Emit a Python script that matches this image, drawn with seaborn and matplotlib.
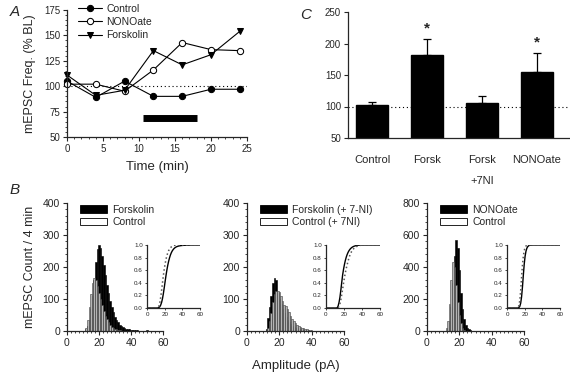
import numpy as np
import pandas as pd
import matplotlib
matplotlib.use('Agg')
import matplotlib.pyplot as plt
import seaborn as sns
from matplotlib.patches import Patch
from matplotlib.ticker import MultipleLocator

sns.set_style('ticks')
plt.rcParams['font.family'] = ['Liberation Sans', 'DejaVu Sans']

# ---- Panel A data: mEPSC frequency (% baseline) over time
time_min = [0, 4, 8, 12, 16, 20, 24]
freq_control = [105, 89, 105, 90, 90, 97, 97]
freq_nonoate = [102, 102, 95, 116, 143, 136, 135]
freq_forskolin = [111, 91, 96, 135, 121, 131, 154]
drug_start, drug_end, drug_level = 10.6, 18.0, 69

# ---- Panel C data: mean frequency with SEM
groups = ['Control', 'Forsk', 'Forsk\n+7NI', 'NONOate']
group_mean = [103, 181, 106, 155]
group_sem = [4, 26, 10, 30]
significant = [False, True, False, True]

# ---- Panel B data: amplitude histograms (1 pA bins)
h1_amp_treat = list(range(12, 51))
h1_cnt_treat = [5, 15, 35, 70, 110, 160, 215, 255, 268, 258, 235, 205, 175, 145, 120, 95,
                75, 58, 45, 35, 27, 20, 15, 12, 9, 7, 6, 5, 4, 3, 3, 2, 2, 1, 1, 1, 1, 1, 2]
h1_amp_ctrl = list(range(12, 35))
h1_cnt_ctrl = [10, 35, 75, 115, 150, 165, 160, 140, 120, 100, 80, 62, 48, 36, 27, 20,
               14, 10, 7, 5, 3, 2, 1]

h2_amp_treat = list(range(12, 40))
h2_cnt_treat = [5, 40, 75, 110, 150, 165, 158, 120, 100, 85, 70, 55, 45, 35, 28, 22,
                17, 13, 10, 8, 6, 5, 4, 3, 2, 2, 1, 1]
h2_amp_ctrl = list(range(13, 42))
h2_cnt_ctrl = [10, 30, 55, 90, 115, 125, 125, 122, 110, 95, 82, 78, 70, 60, 48, 38,
               30, 25, 20, 16, 12, 10, 8, 6, 5, 4, 3, 2, 1]

h3_amp_treat = list(range(13, 29))
h3_cnt_treat = [20, 60, 150, 300, 470, 570, 520, 380, 240, 140, 75, 40, 20, 10, 5, 2]
h3_amp_ctrl = list(range(12, 25))
h3_cnt_ctrl = [20, 60, 170, 320, 430, 400, 290, 180, 100, 50, 20, 8, 3]

hist_sets = [
    (h1_amp_treat, h1_cnt_treat, h1_amp_ctrl, h1_cnt_ctrl, 'Forskolin', 'Control', 400),
    (h2_amp_treat, h2_cnt_treat, h2_amp_ctrl, h2_cnt_ctrl, 'Forskolin (+ 7-NI)', 'Control (+ 7NI)', 400),
    (h3_amp_treat, h3_cnt_treat, h3_amp_ctrl, h3_cnt_ctrl, 'NONOate', 'Control', 800),
]

W, H = 570, 376
fig = plt.figure(figsize=(W / 100, H / 100), dpi=100)


def px_axes(x0, y0, x1, y1):
    return fig.add_axes([x0 / W, 1 - y1 / H, (x1 - x0) / W, (y1 - y0) / H])


def style_ticks(ax, size=7):
    ax.tick_params(which='major', length=3, width=0.8, labelsize=size, pad=2, direction='out')
    ax.tick_params(which='minor', length=1.5, width=0.6, direction='out')
    for s in ['left', 'bottom']:
        ax.spines[s].set_linewidth(0.9)
    sns.despine(ax=ax)


# ---------------- Panel A
axA = px_axes(67, 10, 247, 137)
sns.lineplot(x=time_min, y=freq_control, ax=axA, color='black', lw=0.8, marker='o',
             markersize=4.5, markerfacecolor='black', markeredgecolor='black', label='Control', clip_on=False)
sns.lineplot(x=time_min, y=freq_nonoate, ax=axA, color='black', lw=0.8, marker='o',
             markersize=4.5, markerfacecolor='white', markeredgecolor='black', label='NONOate', clip_on=False)
sns.lineplot(x=time_min, y=freq_forskolin, ax=axA, color='black', lw=0.8, marker='v',
             markersize=4.5, markerfacecolor='black', markeredgecolor='black', label='Forskolin', clip_on=False)
axA.axhline(100, color='black', lw=0.8, ls=(0, (1, 2.5)), zorder=0)
axA.plot([drug_start, drug_end], [drug_level, drug_level], color='black', lw=5, solid_capstyle='butt')
axA.set_xlim(0, 25)
axA.set_ylim(50, 175)
axA.set_xticks([0, 5, 10, 15, 20, 25])
axA.set_yticks([50, 75, 100, 125, 150, 175])
axA.xaxis.set_minor_locator(MultipleLocator(1))
axA.yaxis.set_minor_locator(MultipleLocator(5))
style_ticks(axA)
axA.set_xlabel('Time (min)', fontsize=9.5, labelpad=5)
axA.set_ylabel('mEPSC Freq. (% BL)', fontsize=9, labelpad=6)
axA.legend(loc='upper left', bbox_to_anchor=(0.04, 1.08), frameon=False, fontsize=7.5,
           handlelength=2.3, handletextpad=0.4, labelspacing=0.3, borderaxespad=0)
fig.text(10 / W, 1 - 12 / H, 'A', fontsize=11, style='italic', va='center')

# ---------------- Panel C
axC = px_axes(348, 12, 570, 138)
dfC = pd.DataFrame({'group': groups, 'mean': group_mean})
sns.barplot(data=dfC, x='group', y='mean', ax=axC, color='black', width=0.58,
            saturation=1, edgecolor='black', zorder=2)
axC.errorbar(range(len(groups)), group_mean, yerr=[[0] * len(groups), group_sem], fmt='none',
             ecolor='black', elinewidth=0.9, capsize=3, capthick=0.9, zorder=3)
for i, sig in enumerate(significant):
    if sig:
        axC.text(i, group_mean[i] + group_sem[i] + 5, '*', ha='center', va='bottom',
                 fontsize=11, fontweight='bold')
axC.axhline(100, color='black', lw=0.8, ls=(0, (1, 2.5)), zorder=1)
axC.set_xlim(-0.44, 3.6)
axC.set_ylim(50, 250)
axC.set_yticks([50, 100, 150, 200, 250])
style_ticks(axC)
axC.tick_params(axis='x', length=0, labelsize=8, pad=12)
for lab in axC.get_xticklabels():
    lab.set_linespacing(2.4)
    lab.set_va('top')
axC.set_xlabel('')
axC.set_ylabel('')
fig.text(300 / W, 1 - 15 / H, 'C', fontsize=11, style='italic', va='center')

# ---------------- Panel B
hist_px = [(67, 163), (247, 344), (427, 524)]
inset_px = [(147, 200), (326, 380), (507, 560)]
for k, (a_t, c_t, a_c, c_c, lab_t, lab_c, ymax) in enumerate(hist_sets):
    x0, x1 = hist_px[k]
    ax = px_axes(x0, 203, x1, 331)
    df_t = pd.DataFrame({'amp': a_t, 'count': c_t})
    df_c = pd.DataFrame({'amp': a_c, 'count': c_c})
    sns.histplot(data=df_t, x='amp', weights='count', discrete=True, ax=ax, color='black',
                 edgecolor='black', linewidth=0.4, alpha=1)
    sns.histplot(data=df_c, x='amp', weights='count', discrete=True, ax=ax, color='#b5b5b5',
                 edgecolor='#404040', linewidth=0.4, alpha=1)
    ax.set_xlim(0, 60)
    ax.set_ylim(0, ymax)
    ax.set_xticks([0, 20, 40, 60])
    ax.set_yticks(np.linspace(0, ymax, 5))
    ax.xaxis.set_minor_locator(MultipleLocator(2.5))
    ax.yaxis.set_minor_locator(MultipleLocator(ymax / 20))
    style_ticks(ax, 7.5)
    ax.set_ylabel('')
    ax.set_xlabel('')
    handles = [Patch(facecolor='black', edgecolor='black', lw=0.6, label=lab_t),
               Patch(facecolor='white', edgecolor='black', lw=0.6, label=lab_c)]
    ax.legend(handles=handles, loc='upper left', bbox_to_anchor=(0.09, 1.02), frameon=False,
              fontsize=7.5, handlelength=2.6, handleheight=0.7, handletextpad=0.5,
              labelspacing=0.25, borderaxespad=0)
    if k == 0:
        ax.set_ylabel('mEPSC Count / 4 min', fontsize=9, labelpad=5)
    if k == 1:
        ax.set_xlabel('Amplitude (pA)', fontsize=9.5, labelpad=9)

    # cumulative inset
    i0, i1 = inset_px[k]
    axi = px_axes(i0, 245, i1, 308)
    for amps, cnts, ls, col in [(a_t, c_t, '-', 'black'), (a_c, c_c, ':', '#555555')]:
        cdf = np.cumsum(cnts) / np.sum(cnts)
        xs = [0, amps[0] - 0.5] + [a + 0.5 for a in amps] + [60]
        ys = [0, 0] + list(cdf) + [1]
        sns.lineplot(x=xs, y=ys, ax=axi, color=col, lw=1.0 if ls == '-' else 1.1,
                     linestyle=ls, sort=False)
    axi.set_xlim(0, 60)
    axi.set_ylim(0, 1)
    axi.set_xticks([0, 20, 40, 60])
    axi.set_yticks([0, 0.2, 0.4, 0.6, 0.8, 1.0])
    axi.set_yticklabels(['0.0', '0.2', '0.4', '0.6', '0.8', '1.0'])
    axi.tick_params(length=1.5, width=0.6, labelsize=4.5, pad=1.5)
    for s in ['left', 'bottom']:
        axi.spines[s].set_linewidth(0.9)
    sns.despine(ax=axi)
fig.text(10 / W, 1 - 190 / H, 'B', fontsize=11, style='italic', va='center')

fig.savefig('out.png', dpi=100)
